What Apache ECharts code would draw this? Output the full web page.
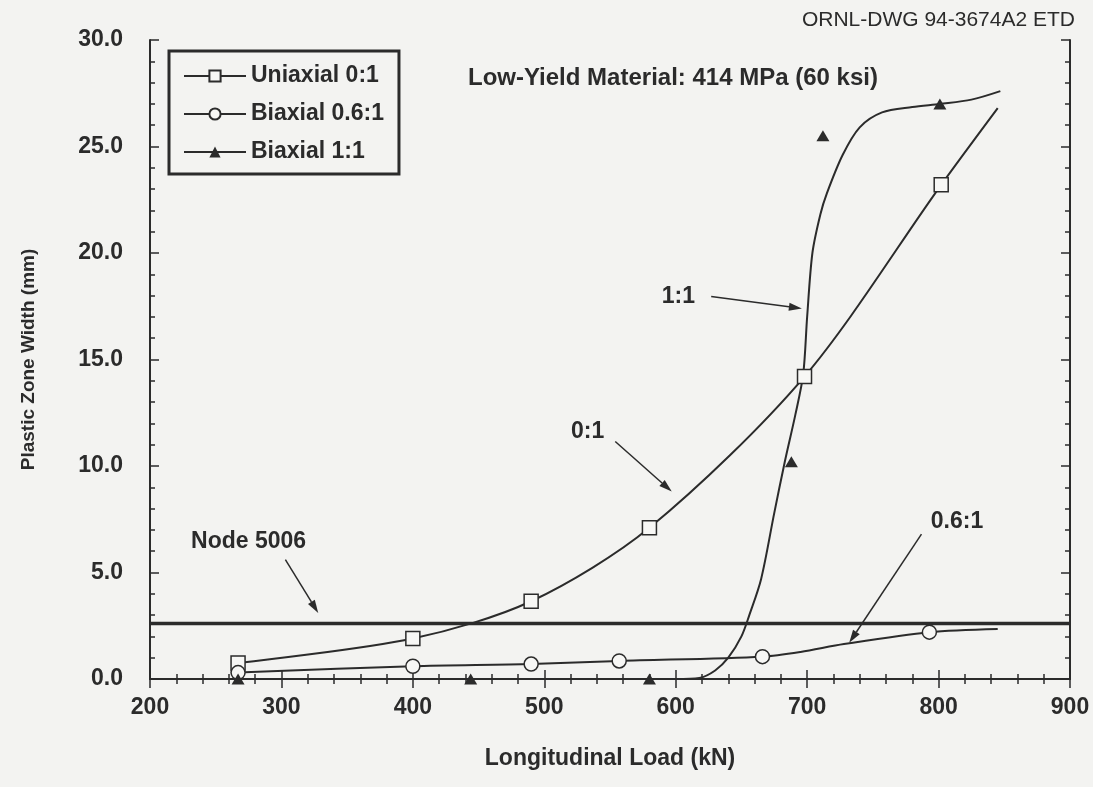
<!DOCTYPE html>
<html>
<head>
<meta charset="utf-8">
<script src="https://cdn.jsdelivr.net/npm/echarts@6/dist/echarts.min.js"></script>
<style>
  html, body { margin: 0; padding: 0; background: #f3f3f1; }
  #chart { width: 1093px; height: 787px; }
</style>
</head>
<body>
<div id="chart"></div>
<script>
// Longitudinal load (kN) vs. plastic zone width (mm)
const xTicks = [200, 300, 400, 500, 600, 700, 800, 900];
const yTicks = [0, 5, 10, 15, 20, 25, 30];

// measured points
const uniaxialLoad = [267, 400, 490, 580, 698, 802];
const uniaxialWidth = [0.75, 1.9, 3.65, 7.1, 14.2, 23.2];

const biax06Load = [267, 400, 490, 557, 666, 793];
const biax06Width = [0.3, 0.6, 0.7, 0.85, 1.05, 2.2];

const biax11Load = [267, 444, 580, 688, 712, 801];
const biax11Width = [0.0, 0.0, 0.0, 10.2, 25.5, 27.0];

// fitted curves drawn through the results
const uniaxialCurveLoad = [267, 400, 490, 580, 698, 802, 845];
const uniaxialCurveWidth = [0.75, 1.9, 3.65, 7.1, 14.2, 23.2, 26.8];

const biax06CurveLoad = [267, 400, 490, 557, 666, 695, 728, 793, 845];
const biax06CurveWidth = [0.3, 0.6, 0.7, 0.85, 1.05, 1.27, 1.64, 2.2, 2.35];

const biax11CurveLoad = [267, 450, 600, 618, 630, 640, 650, 656, 665, 675, 683, 691, 697, 700, 704, 710, 715, 727, 740, 757, 780, 801, 825, 847];
const biax11CurveWidth = [0, 0, 0, 0.05, 0.4, 1.0, 2.0, 3.0, 4.7, 7.8, 10.2, 12.4, 14.3, 17.0, 20.0, 21.8, 22.8, 24.6, 25.9, 26.6, 26.85, 27.0, 27.2, 27.6];

// Node 5006 reference level
const nodeLoad = [200, 900];
const nodeWidth = [2.6, 2.6];

const ink = '#2b2b2b';
const font = 'Liberation Sans, Arial, Helvetica, sans-serif';

const pairs = (xs, ys) => xs.map((x, i) => [x, ys[i]]);

// frame axis with inward ticks; majors and minors live on two stacked grids
function frameAxis(extra, tickLen, showLine) {
  return Object.assign({
    type: 'value',
    axisLine: { show: showLine, lineStyle: { color: ink, width: 2 } },
    axisTick: { show: true, inside: true, length: tickLen, lineStyle: { color: ink, width: 1.5 } },
    axisLabel: { show: false },
    splitLine: { show: false }
  }, extra);
}

const gridBox = { left: 150, right: 23, top: 40, bottom: 108 };

const chart = echarts.init(document.getElementById('chart'), null, { renderer: 'canvas' });

const option = {
  backgroundColor: '#f3f3f1',
  animation: false,
  textStyle: { fontFamily: font, color: ink },
  grid: [Object.assign({}, gridBox), Object.assign({}, gridBox)],
  title: [
    {
      text: 'Low-Yield Material: 414 MPa (60 ksi)',
      left: 463, top: 61,
      textStyle: { fontFamily: font, fontWeight: 'bold', fontSize: 24, color: ink }
    },
    {
      text: 'ORNL-DWG 94-3674A2 ETD',
      right: 13, top: 5,
      textStyle: { fontFamily: font, fontWeight: 'normal', fontSize: 21, color: ink }
    }
  ],
  legend: {
    data: ['Uniaxial 0:1', 'Biaxial 0.6:1', 'Biaxial 1:1'],
    orient: 'vertical',
    left: 169, top: 51,
    padding: [13, 15, 10, 14],
    itemWidth: 62, itemHeight: 14, itemGap: 14,
    borderColor: ink, borderWidth: 3, borderRadius: 0,
    backgroundColor: '#f3f3f1',
    lineStyle: { color: ink, width: 2, opacity: 1 },
    textStyle: { fontFamily: font, fontWeight: 'bold', fontSize: 23, color: ink, lineHeight: 24 }
  },
  xAxis: [
    frameAxis({
      gridIndex: 0, min: 200, max: 900, interval: 100, position: 'bottom',
      name: 'Longitudinal Load (kN)', nameLocation: 'middle', nameGap: 68,
      nameTextStyle: { fontFamily: font, fontWeight: 'bold', fontSize: 23, color: ink },
      axisLabel: { show: true, margin: 17, fontFamily: font, fontWeight: 'bold', fontSize: 23, color: ink,
        formatter: v => xTicks.indexOf(v) >= 0 ? String(v) : '' }
    }, 9, true),
    frameAxis({ gridIndex: 0, min: 200, max: 900, interval: 100, position: 'top' }, 9, true),
    frameAxis({ gridIndex: 1, min: 200, max: 900, interval: 20, position: 'bottom' }, 5, false),
    frameAxis({ gridIndex: 1, min: 200, max: 900, interval: 20, position: 'top' }, 5, false)
  ],
  yAxis: [
    frameAxis({
      gridIndex: 0, min: 0, max: 30, interval: 5, position: 'left',
      name: 'Plastic Zone Width (mm)', nameLocation: 'middle', nameGap: 112,
      nameTextStyle: { fontFamily: font, fontWeight: 'bold', fontSize: 19, color: ink },
      axisLabel: { show: true, margin: 27, fontFamily: font, fontWeight: 'bold', fontSize: 23, color: ink,
        formatter: v => yTicks.indexOf(v) >= 0 ? v.toFixed(1) : '' }
    }, 9, true),
    frameAxis({ gridIndex: 0, min: 0, max: 30, interval: 5, position: 'right' }, 9, true),
    frameAxis({ gridIndex: 1, min: 0, max: 30, interval: 1, position: 'left' }, 5, false),
    frameAxis({ gridIndex: 1, min: 0, max: 30, interval: 1, position: 'right' }, 5, false)
  ],
  series: [
    {
      name: 'node-5006', type: 'line', data: pairs(nodeLoad, nodeWidth),
      showSymbol: false, silent: true, z: 2,
      lineStyle: { color: ink, width: 3.5 }
    },
    {
      name: 'curve-0:1', type: 'line', data: pairs(uniaxialCurveLoad, uniaxialCurveWidth),
      smooth: 0.3, showSymbol: false, silent: true, z: 3,
      lineStyle: { color: ink, width: 2 }
    },
    {
      name: 'curve-0.6:1', type: 'line', data: pairs(biax06CurveLoad, biax06CurveWidth),
      smooth: 0.3, showSymbol: false, silent: true, z: 3,
      lineStyle: { color: ink, width: 2 }
    },
    {
      name: 'curve-1:1', type: 'line', data: pairs(biax11CurveLoad, biax11CurveWidth),
      smooth: 0.3, showSymbol: false, silent: true, z: 3,
      lineStyle: { color: ink, width: 2 }
    },
    {
      name: 'Uniaxial 0:1', type: 'line', data: pairs(uniaxialLoad, uniaxialWidth),
      symbol: 'rect', symbolSize: 14, showSymbol: true, z: 5,
      lineStyle: { opacity: 0 },
      itemStyle: { color: '#f7f7f5', borderColor: ink, borderWidth: 1.5 }
    },
    {
      name: 'Biaxial 0.6:1', type: 'line', data: pairs(biax06Load, biax06Width),
      symbol: 'circle', symbolSize: 14, showSymbol: true, z: 5,
      lineStyle: { opacity: 0 },
      itemStyle: { color: '#f7f7f5', borderColor: ink, borderWidth: 1.5 }
    },
    {
      name: 'Biaxial 1:1', type: 'line', data: pairs(biax11Load, biax11Width),
      symbol: 'triangle', symbolSize: [13, 11], showSymbol: true, z: 5,
      lineStyle: { opacity: 0 },
      itemStyle: { color: ink, borderColor: ink, borderWidth: 0 }
    }
  ]
};

chart.setOption(option);

// Labels and arrows placed in data coordinates
const notes = [
  { text: 'Node 5006', at: [275, 6.45], from: [303, 5.6], to: [328, 3.1] },
  { text: '0:1', at: [533, 11.6], from: [554, 11.15], to: [597, 8.8] },
  { text: '1:1', at: [602, 17.96], from: [627, 17.96], to: [696, 17.4] },
  { text: '0.6:1', at: [814, 7.4], from: [787, 6.8], to: [732, 1.7] }
];

const toPx = p => chart.convertToPixel({ gridIndex: 0 }, p);
const graphics = [];
notes.forEach(n => {
  const c = toPx(n.at), a = toPx(n.from), b = toPx(n.to);
  graphics.push({
    type: 'text', x: c[0], y: c[1], z: 10,
    style: { text: n.text, font: 'bold 23px ' + font, fill: ink, textAlign: 'center', textVerticalAlign: 'middle' }
  });
  const dx = b[0] - a[0], dy = b[1] - a[1];
  const len = Math.sqrt(dx * dx + dy * dy);
  const ux = dx / len, uy = dy / len;
  const headLen = 13, headW = 4;
  const bx = b[0] - ux * headLen, by = b[1] - uy * headLen;
  graphics.push({
    type: 'line', z: 10,
    shape: { x1: a[0], y1: a[1], x2: bx, y2: by },
    style: { stroke: ink, lineWidth: 1.5 }
  });
  graphics.push({
    type: 'polygon', z: 10,
    shape: { points: [[b[0], b[1]], [bx - uy * headW, by + ux * headW], [bx + uy * headW, by - ux * headW]] },
    style: { fill: ink }
  });
});
chart.setOption({ graphic: graphics });
</script>
</body>
</html>
